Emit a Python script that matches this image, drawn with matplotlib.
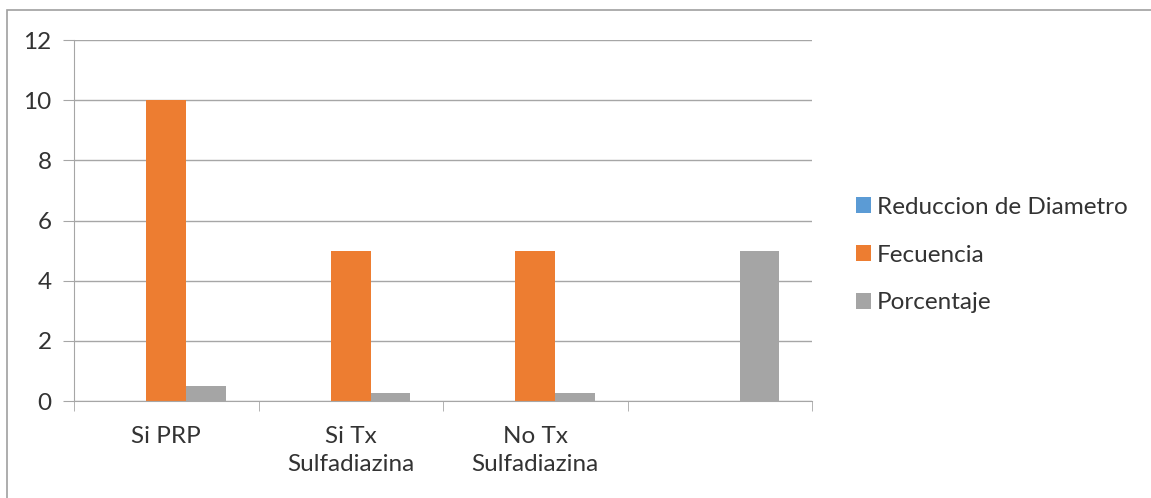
import matplotlib.pyplot as plt
import numpy as np
from matplotlib.patches import Rectangle

categories = ['Si PRP', 'Si Tx\nSulfadiazina', 'No Tx\nSulfadiazina', '']
reduccion = [0, 0, 0, 0]
fecuencia = [10, 5, 5, 0]
porcentaje = [0.5, 0.25, 0.25, 5]

plt.rcParams['font.family'] = ['Lato', 'DejaVu Sans']

fig = plt.figure(figsize=(11.51, 4.98), dpi=100)
# frame round the chart area (right and bottom edges fall outside)
fig.patches.append(Rectangle((7 / 1151, -10 / 498), 1160 / 1151, 498 / 498,
                             transform=fig.transFigure, fill=False,
                             edgecolor='#a0a0a0', linewidth=1.2))

ax = fig.add_axes([74 / 1151, 97 / 498, 738 / 1151, 361 / 498])

x = np.arange(len(categories))
w = 0.215
ax.bar(x - w, reduccion, w, color='#5b9bd5', label='Reduccion de Diametro')
ax.bar(x, fecuencia, w, color='#ed7d31', label='Fecuencia')
ax.bar(x + w, porcentaje, w, color='#a5a5a5', label='Porcentaje')

ax.set_xlim(-0.5, len(categories) - 0.5)
ax.set_ylim(0, 12)
ax.set_yticks(range(0, 13, 2))
ax.yaxis.grid(True, color='#a6a6a6', linewidth=1)
ax.set_axisbelow(True)

for s in ['top', 'right']:
    ax.spines[s].set_visible(False)
ax.spines['left'].set_color('#a6a6a6')
ax.spines['bottom'].set_color('#a6a6a6')

# category labels centred, tick marks between the groups
ax.set_xticks(x)
ax.set_xticklabels(categories, fontsize=17.5, color='#333333', linespacing=1.4)
ax.tick_params(axis='x', length=0, pad=18)
ax.set_xticks(np.arange(-0.5, len(categories), 1), minor=True)
ax.tick_params(axis='x', which='minor', length=7, color='#a6a6a6')
ax.tick_params(axis='y', labelsize=17.5, labelcolor='#333333', length=8,
               color='#a6a6a6', pad=8)

ax.legend(loc='center left', bbox_to_anchor=(1.03, 0.404), frameon=False,
          fontsize=17.5, handlelength=0.62, handleheight=0.62, handletextpad=0.25,
          labelspacing=1.1, labelcolor='#333333')

plt.savefig('out.png', dpi=100)
